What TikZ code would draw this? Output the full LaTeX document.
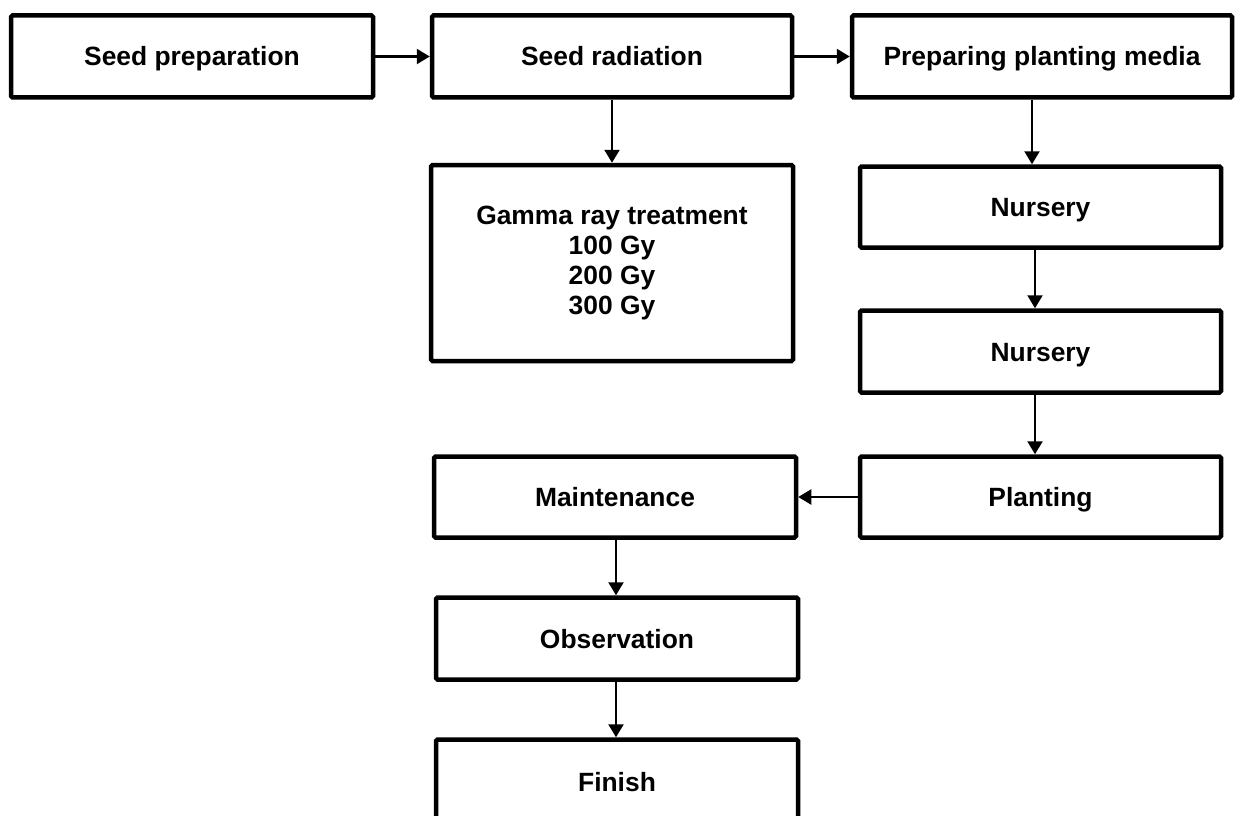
\documentclass[tikz,border=0pt]{standalone}
\usepackage{fontspec}
\setmainfont{Liberation Sans}
\usetikzlibrary{arrows.meta,calc}
\begin{document}
\begin{tikzpicture}[x=1pt,y=-1pt,
  box/.style={draw=black,line width=4.5pt,rounded corners=1.5pt,inner sep=0pt,align=center,
    font=\fontsize{26.4}{30}\selectfont\bfseries},
  one/.style={text height=19pt,text depth=0pt,yshift=-1.5pt},
  arr/.style={line width=2.3pt,-{Triangle[length=13pt,width=15pt]}}]
\clip (0,0) rectangle (1235,816);
\fill[white] (0,0) rectangle (1235,816);
\node[box,one,minimum width=362pt,minimum height=82pt] (prep) at (192,55) {Seed preparation};
\node[box,one,minimum width=360pt,minimum height=82pt] (rad) at (612,55) {Seed radiation};
\node[box,one,minimum width=380pt,minimum height=82pt] (media) at (1042,55) {Preparing planting media};
\node[box,minimum width=362pt,minimum height=196pt] (gamma) at (612,263) {Gamma ray treatment\\100 Gy\\200 Gy\\300 Gy};
\node[box,one,minimum width=361pt,minimum height=81pt] (nurs1) at (1040.5,205.5) {Nursery};
\node[box,one,minimum width=361pt,minimum height=82pt] (nurs2) at (1040.5,350) {Nursery};
\node[box,one,minimum width=361pt,minimum height=81pt] (plant) at (1040.5,495.5) {Planting};
\node[box,one,minimum width=362pt,minimum height=81pt] (maint) at (615,495.5) {Maintenance};
\node[box,one,minimum width=362pt,minimum height=82pt] (obs) at (617,637) {Observation};
\node[box,one,minimum width=362pt,minimum height=84pt] (fin) at (617,780) {Finish};
\coordinate (xa) at (1032,0);
\coordinate (xb) at (1035,0);
\coordinate (xc) at (616,0);
\draw[arr] (prep) -- (rad);
\draw[arr] (rad) -- (media);
\draw[arr] (rad) -- (gamma);
\draw[arr] (media.south -| xa) -- (nurs1.north -| xa);
\draw[arr] (nurs1.south -| xb) -- (nurs2.north -| xb);
\draw[arr] (nurs2.south -| xb) -- (plant.north -| xb);
\draw[arr] (plant) -- (maint);
\draw[arr] (maint.south -| xc) -- (obs.north -| xc);
\draw[arr] (obs.south -| xc) -- (fin.north -| xc);
\end{tikzpicture}
\end{document}
